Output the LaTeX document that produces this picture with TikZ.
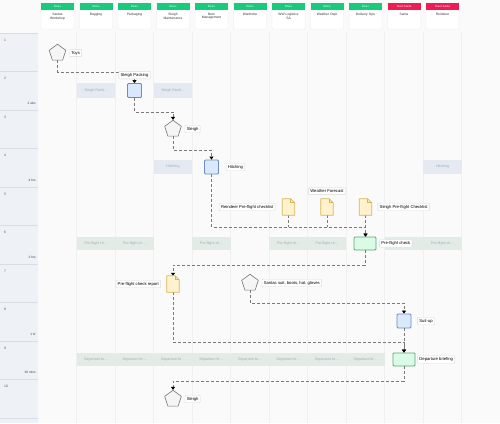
\documentclass[tikz,border=0pt]{standalone}
\usepackage{fontspec}
\setmainfont{Liberation Sans}
\usepackage{tikz}
\usetikzlibrary{arrows.meta,positioning,shapes.geometric}
\tikzset{>={Triangle[length=3pt,width=4pt,black]}}

\definecolor{pagebg}{HTML}{FAFAFA}
\definecolor{colbg}{HTML}{EEF2F7}
\definecolor{colline}{HTML}{D8DEE6}
\definecolor{laneline}{HTML}{F0F0F0}
\definecolor{elfgreen}{HTML}{17CA7C}
\definecolor{santared}{HTML}{EE1C55}
\definecolor{taskfill}{HTML}{DAE8FC}
\definecolor{taskline}{HTML}{6C8EBF}
\definecolor{gatefill}{HTML}{DAFBE6}
\definecolor{gateline}{HTML}{5BA877}
\definecolor{docfill}{HTML}{FFF2CC}
\definecolor{docline}{HTML}{D6B656}
\definecolor{itemfill}{HTML}{F5F5F5}
\definecolor{itemline}{HTML}{777777}
\definecolor{ghostblue}{HTML}{E4E9F2}
\definecolor{ghostgreen}{HTML}{E2EBE5}
\definecolor{ghosttext}{HTML}{A3ACB9}
\definecolor{flowline}{HTML}{7A7A7A}

\tikzstyle{card}=[rectangle,fill=white,draw=black!8,rounded corners=1pt,minimum width=33pt,minimum height=26pt,inner sep=0pt]
\tikzstyle{band}=[rectangle,anchor=north,minimum width=33pt,minimum height=6.5pt,inner sep=0pt,text=white,font=\fontsize{2.8}{3}\selectfont]
\tikzstyle{cardtext}=[anchor=north,align=center,text width=32pt,inner sep=0pt,text=black!80,font=\fontsize{3.3}{3.7}\selectfont]
\tikzstyle{rowno}=[anchor=west,inner sep=0pt,text=black!65,font=\fontsize{3.4}{4}\selectfont]
\tikzstyle{rowtime}=[anchor=east,inner sep=0pt,text=black!75,font=\fontsize{3.2}{4}\selectfont]
\tikzstyle{ghost}=[rectangle,minimum width=38.5pt,inner sep=0pt,text=ghosttext,font=\fontsize{3.6}{4}\selectfont]
\tikzstyle{task}=[rectangle,draw=taskline,fill=taskfill,line width=0.8pt,rounded corners=1pt,minimum width=14pt,minimum height=14pt,inner sep=0pt]
\tikzstyle{gate}=[task,draw=gateline,fill=gatefill,minimum width=22pt,minimum height=13pt]
\tikzstyle{item}=[regular polygon,regular polygon sides=5,draw=itemline,fill=itemfill,line width=0.6pt,minimum size=17.5pt,inner sep=0pt]
\tikzstyle{docbox}=[rectangle,minimum width=12pt,minimum height=16pt,inner sep=0pt]
\tikzstyle{docpath}=[draw=docline,fill=docfill,line width=0.7pt,line join=round]
\tikzstyle{tag}=[rectangle,draw=black!15,fill=white,rounded corners=0.8pt,inner sep=1.8pt,text=black,font=\fontsize{4.2}{5}\selectfont]
\tikzstyle{flow}=[->,draw=flowline,line width=0.6pt,dash pattern=on 3pt off 2pt]
\tikzstyle{merge}=[flow,-]

\newcommand{\docshape}[1]{%
  \filldraw[docpath] (#1.south west) -- (#1.south east) -- ([yshift=-4pt]#1.north east)
    -- ([xshift=-4pt]#1.north east) -- (#1.north west) -- cycle;
  \draw[docpath,fill=none] ([xshift=-4pt]#1.north east) |- ([yshift=-4pt]#1.north east);
}

\begin{document}
\begin{tikzpicture}[x=1pt,y=-1pt]
  \def\lw{38.5}
  \def\lx{57.5}
  \useasboundingbox (0,0) rectangle (500,423);
  % board
  \fill[pagebg] (0,0) rectangle (500,423);
  \fill[colbg] (0,33) rectangle (38,423);
  \foreach \i in {1,...,11}
    \draw[laneline] ({38+\lw*\i},33) -- ({38+\lw*\i},423);
  \foreach \r in {0,...,10}
    \draw[colline] (0,{33+\lw*\r}) -- (38,{33+\lw*\r});
  \foreach \r in {1,...,10}
    \node[rowno] at (4,{33+\lw*(\r-1)+7}) {\r};
  \foreach \r/\t in {2/2 wks,4/4 hrs,6/2 hrs,8/1 hr,9/30 mins}
    \node[rowtime] at (36,{33+\lw*\r-7}) {\t};

  % lane headers
  \foreach \name/\team/\col [count=\i] in {Santas\\Workshop/Elves/elfgreen,Bagging/Elves/elfgreen,
      Packaging/Elves/elfgreen,Sleigh\\Maintenance/Elves/elfgreen,Barn\\Management/Elves/elfgreen,
      Wardrobe/Elves/elfgreen,WW Logistics\\SA/Elves/elfgreen,Weather Dept/Elves/elfgreen,
      Delivery Ops/Elves/elfgreen,Santa/Team Santa/santared,Reindeer/Team Santa/santared}
  {
    \node[card] (card\i) at ({\lx+\lw*(\i-1)},16) {};
    \node[band,fill=\col] at (card\i.north) {\team};
    \node[cardtext] at ([yshift=-10pt]card\i.north) {\name};
  }

  % greyed out slots
  \foreach \l in {2,4}
    \node[ghost,fill=ghostblue,minimum height=15pt] at ({\lx+\lw*(\l-1)},90.5) {Sleigh Packi\ldots};
  \foreach \l in {4,11}
    \node[ghost,fill=ghostblue,minimum height=14pt] at ({\lx+\lw*(\l-1)},167) {Hitching};
  \foreach \l in {2,3,5,7,8,10,11}
    \node[ghost,fill=ghostgreen,minimum height=13pt] at ({\lx+\lw*(\l-1)},243.5) {Pre-flight ch\ldots};
  \foreach \l in {2,...,9}
    \node[ghost,fill=ghostgreen,minimum height=13pt] at ({\lx+\lw*(\l-1)},359.5) {Departure br\ldots};

  % steps
  \node[item] (toys) at (57.5,53) {};
  \node[task] (packing) at (134.5,90.5) {};
  \node[item] (sleighA) at (173,129) {};
  \node[task] (hitching) at (211.5,167) {};
  \node[docbox] (docR) at (288.5,207) {};
  \node[docbox] (docW) at (327,207) {};
  \node[docbox] (docS) at (365.5,207) {};
  \node[gate] (check) at (365,243.5) {};
  \node[docbox] (report) at (173,284) {};
  \node[item] (suit) at (250,283) {};
  \node[task] (suitup) at (404,321) {};
  \node[gate] (briefing) at (404,359.5) {};
  \node[item] (sleighB) at (173,399) {};

  % flows
  \draw[flow] (toys.south) -- ++(0,12) -| (packing.north);
  \draw[flow] (packing.south) -- ++(0,14) -| (sleighA.north);
  \draw[flow] (sleighA.south) -- ++(0,14) -| (hitching.north);
  \draw[flow] (hitching.south) -- ++(0,53) -| (docS.south |- check.north);
  \draw[merge] (docR.south) -- ++(0,12);
  \draw[merge] (docW.south) -- ++(0,12);
  \draw[flow] (docS.south) -- (docS.south |- check.north);
  \draw[flow] (check.south) -- ++(0,15) -| (report.north);
  \draw[flow] (report.south) -- ++(0,50) -| (briefing.north);
  \draw[flow] (suit.south) -- ++(0,13) -| (suitup.north);
  \draw[flow] (suitup.south) -- (briefing.north);
  \draw[flow] (briefing.south) -- ++(0,15) -| (sleighB.north);

  \docshape{docR}
  \docshape{docW}
  \docshape{docS}
  \docshape{report}

  % labels
  \node[tag,right=4pt of toys] {Toys};
  \node[tag,above=4pt of packing] {Sleigh Packing};
  \node[tag,right=4pt of sleighA] {Sleigh};
  \node[tag,right=7pt of hitching] {Hitching};
  \node[tag,left=7pt of docR] {Reindeer Pre-flight checklist};
  \node[tag,above=4pt of docW] {Weather Forecast};
  \node[tag,right=6pt of docS] {Sleigh Pre-flight Checklist};
  \node[tag,right=3pt of check] {Pre-flight check};
  \node[tag,left=6pt of report] {Pre-flight check report};
  \node[tag,right=4pt of suit] {Santas suit, boots, hat, gloves};
  \node[tag,right=6pt of suitup] {Suit-up};
  \node[tag,right=2pt of briefing] {Departure briefing};
  \node[tag,right=4pt of sleighB] {Sleigh};
\end{tikzpicture}
\end{document}
